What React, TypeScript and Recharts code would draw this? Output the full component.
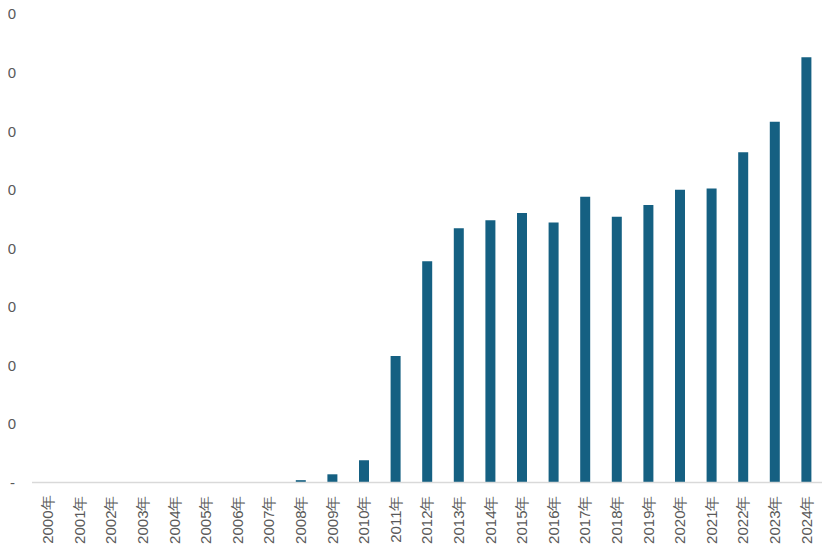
import React from "react";
import { BarChart, Bar, XAxis, YAxis } from "recharts";

const years = [
  "2000年", "2001年", "2002年", "2003年", "2004年", "2005年", "2006年", "2007年",
  "2008年", "2009年", "2010年", "2011年", "2012年", "2013年", "2014年", "2015年",
  "2016年", "2017年", "2018年", "2019年", "2020年", "2021年", "2022年", "2023年", "2024年",
];
const values = [
  0, 0, 0, 0, 0, 0, 0, 0,
  0.2, 0.7, 1.9, 10.8, 18.9, 21.7, 22.4, 23.0,
  22.2, 24.4, 22.7, 23.7, 25.0, 25.1, 28.2, 30.8, 36.3,
];
const yTicks = [0, 5, 10, 15, 20, 25, 30, 35, 40];

const data = years.map((year, i) => ({ year, value: values[i] }));

const FONT = '"Liberation Sans", Arial, sans-serif';

const XTick = (props: any) => {
  const { x, y, payload } = props;
  const ty = y + 13;
  return (
    <text
      x={x}
      y={ty}
      transform={`rotate(-90, ${x}, ${ty})`}
      textAnchor="end"
      dy="0.36em"
      fill="#595959"
      fontSize={15}
      fontFamily={FONT}
    >
      {payload.value}
    </text>
  );
};

const YTick = (props: any) => {
  const { y, payload } = props;
  const v = payload.value as number;
  const label = v === 0 ? "-" : v.toFixed(1);
  return (
    <text
      x={v === 0 ? 15 : 16}
      y={y}
      textAnchor="end"
      dy="0.36em"
      fill="#595959"
      fontSize={15}
      fontFamily={FONT}
    >
      {label}
    </text>
  );
};

export default function App() {
  return (
    <div style={{ marginLeft: -8, marginTop: -8, width: 830, height: 556 }}>
      <BarChart
        width={830}
        height={556}
        data={data}
        margin={{ top: 14, right: 8, left: 16, bottom: 0 }}
      >
        <XAxis
          dataKey="year"
          interval={0}
          height={73.5}
          tickLine={false}
          tickSize={0}
          tickMargin={0}
          axisLine={{ stroke: "#d9d9d9", strokeWidth: 1.5 }}
          tick={<XTick />}
        />
        <YAxis
          width={16}
          domain={[0, 40]}
          ticks={yTicks}
          interval={0}
          axisLine={false}
          tickLine={false}
          tickSize={0}
          tickMargin={0}
          tick={<YTick />}
        />
        <Bar dataKey="value" fill="#156082" barSize={10} isAnimationActive={false} />
      </BarChart>
    </div>
  );
}
